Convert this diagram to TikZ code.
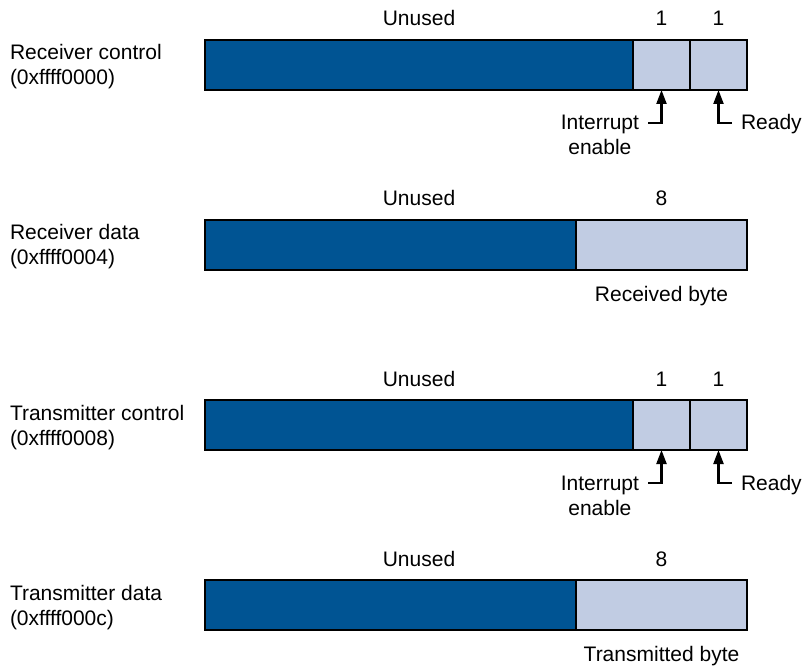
\documentclass[tikz,border=0pt]{standalone}
\usepackage{fontspec}
\setmainfont{Liberation Sans}
\usetikzlibrary{arrows.meta}
\definecolor{cdark}{RGB}{0,84,147}
\definecolor{clight}{RGB}{193,204,227}
\newcommand\mmL[2]{\vtop{\baselineskip=25pt\hbox{#1}\hbox{#2}}}
\newcommand\mmC[2]{\vtop{\baselineskip=25pt\halign{\hfil##\hfil\cr #1\cr #2\cr}}}
\begin{document}
\begin{tikzpicture}[x=1pt,y=-1pt,
  every node/.style={inner sep=0pt,outer sep=0pt,font=\fontsize{21}{25}\selectfont},
  cell/.style={draw=black,line width=1.4pt,minimum height=50pt,inner sep=0pt},
  darkcell/.style={cell,fill=cdark},
  lightcell/.style={cell,fill=clight},
  arr/.style={line width=2.2pt,-{Triangle[length=14pt,width=10pt]}}]
\useasboundingbox (0,0) rectangle (804,666);

% ---------- Receiver control ----------
\node[anchor=base west] (rcl) at (10,60) {\mmL{Receiver control}{(0xffff0000)}};
\node[darkcell,minimum width=428pt] (rcu) at (419,65) {};
\node[lightcell,minimum width=57pt] (rcie) at (661.5,65) {};
\node[lightcell,minimum width=57pt] (rcrd) at (718.5,65) {};
\node[anchor=base] (rcun) at (419,26) {Unused};
\node[anchor=base] (rcb1) at (661.5,26) {1};
\node[anchor=base] (rcb2) at (718.5,26) {1};
\coordinate (rciec) at (648,123);
\coordinate (rcrdc) at (732,123);
\draw[arr] (rciec) -| (rcie.south);
\draw[arr] (rcrdc) -| (rcrd.south);
\node[anchor=base east] (rcint) at (639,130) {\mmC{Interrupt}{enable}};
\node[anchor=base west] (rcrdy) at (741,130) {Ready};

% ---------- Receiver data ----------
\node[anchor=base west] (rdl) at (10,240) {\mmL{Receiver data}{(0xffff0004)}};
\node[darkcell,minimum width=371pt] (rdu) at (390.5,245) {};
\node[lightcell,minimum width=171pt] (rdby) at (661.5,245) {};
\node[anchor=base] (rdun) at (419,206) {Unused};
\node[anchor=base] (rdb8) at (661.5,206) {8};
\node[anchor=base] (rdrb) at (661.5,301) {Received byte};

% ---------- Transmitter control ----------
\node[anchor=base west] (tcl) at (10,420) {\mmL{Transmitter control}{(0xffff0008)}};
\node[darkcell,minimum width=428pt] (tcu) at (419,425) {};
\node[lightcell,minimum width=57pt] (tcie) at (661.5,425) {};
\node[lightcell,minimum width=57pt] (tcrd) at (718.5,425) {};
\node[anchor=base] (tcun) at (419,386) {Unused};
\node[anchor=base] (tcb1) at (661.5,386) {1};
\node[anchor=base] (tcb2) at (718.5,386) {1};
\coordinate (tciec) at (648,483);
\coordinate (tcrdc) at (732,483);
\draw[arr] (tciec) -| (tcie.south);
\draw[arr] (tcrdc) -| (tcrd.south);
\node[anchor=base east] (tcint) at (639,490) {\mmC{Interrupt}{enable}};
\node[anchor=base west] (tcrdy) at (741,490) {Ready};

% ---------- Transmitter data ----------
\node[anchor=base west] (tdl) at (10,600) {\mmL{Transmitter data}{(0xffff000c)}};
\node[darkcell,minimum width=371pt] (tdu) at (390.5,605) {};
\node[lightcell,minimum width=171pt] (tdby) at (661.5,605) {};
\node[anchor=base] (tdun) at (419,566) {Unused};
\node[anchor=base] (tdb8) at (661.5,566) {8};
\node[anchor=base] (tdtb) at (661.5,661) {Transmitted byte};
\end{tikzpicture}
\end{document}
